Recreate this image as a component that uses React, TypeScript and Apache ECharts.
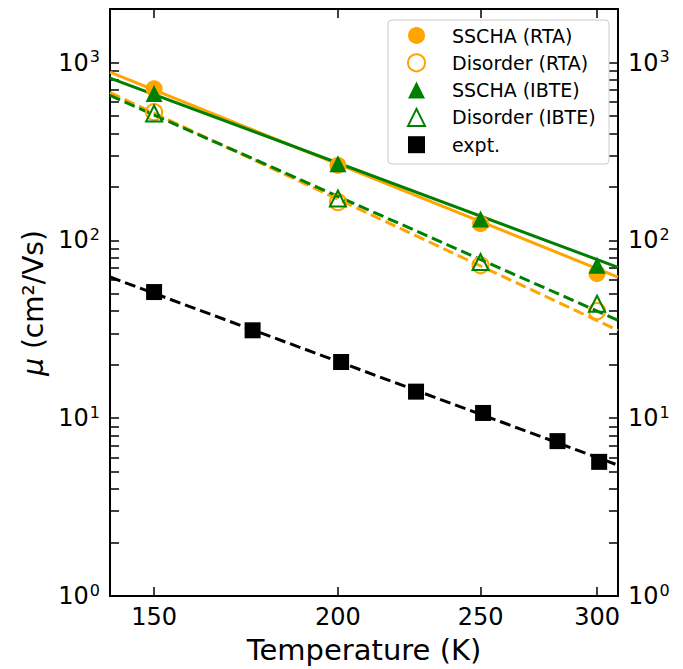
import React, { useEffect, useRef } from "react";
import * as echarts from "echarts";

// ---- data ----
const tempRange = [140, 310];
const muRange = [1, 2000];
const xTickValues = [150, 200, 250, 300];
const yLabelValues = [1, 10, 100, 1000];
const yTickValues = [
  1, 2, 3, 4, 5, 6, 7, 8, 9,
  10, 20, 30, 40, 50, 60, 70, 80, 90,
  100, 200, 300, 400, 500, 600, 700, 800, 900,
  1000,
];

const calcTemps = [150, 200, 250, 300];
const sschaRTA = [711, 264, 124, 65];
const disorderRTA = [526, 164, 72.4, 40];
const sschaIBTE = [670, 270, 132, 72.4];
const disorderIBTE = [517, 172, 75.5, 44];

const exptTemps = [150, 175, 201, 226, 251, 282, 301];
const exptMu = [51.2, 31.2, 20.7, 14.1, 10.7, 7.43, 5.68];

const fitTemps = [140, 310];
const fitSschaRTA = [882, 62.2];
const fitSschaIBTE = [818, 70.5];
const fitDisorderRTA = [678, 31.2];
const fitDisorderIBTE = [653, 35.5];
const fitExpt = [62.2, 5.44];

const legendNames = [
  "SSCHA (RTA)",
  "Disorder (RTA)",
  "SSCHA (IBTE)",
  "Disorder (IBTE)",
  "expt.",
];

const ORANGE = "#FFA500";
const GREEN = "#008000";
const BLACK = "#000000";
const FONT = "DejaVu Sans";

const pair = (xs: number[], ys: number[]) => xs.map((x, i) => [x, ys[i]]);

export default function App() {
  const ref = useRef<HTMLDivElement>(null);

  useEffect(() => {
    if (!ref.current) return;
    const chart = echarts.init(ref.current, null, { renderer: "svg" });

    const supFormatter = (v: number) =>
      `{b|10}{s|${Math.round(Math.log10(v))}}`;
    const supRich = {
      b: {
        fontSize: 24,
        lineHeight: 24,
        fontFamily: FONT,
        color: BLACK,
      },
      s: {
        fontSize: 16,
        lineHeight: 16,
        fontFamily: FONT,
        color: BLACK,
        padding: [0, 0, 12, 1],
      },
    };

    const axisLine = { show: true, lineStyle: { color: BLACK, width: 2 } };
    const tick = (vals: number[]) => ({
      show: true,
      inside: true,
      length: 9,
      customValues: vals,
      lineStyle: { color: BLACK, width: 1.5 },
    });

    const fitLine = (ys: number[], color: string, dashed: boolean) => ({
      type: "line",
      data: pair(fitTemps, ys),
      symbol: "none",
      silent: true,
      lineStyle: {
        color,
        width: 3,
        type: dashed ? [11, 5] : "solid",
      },
      z: 2,
    });

    const option: any = {
      animation: false,
      backgroundColor: "#fff",
      grid: { left: 110, top: 9, width: 508, height: 587, containLabel: false },
      xAxis: [
        {
          type: "log",
          logBase: 10,
          min: tempRange[0],
          max: tempRange[1],
          position: "bottom",
          axisLine,
          axisTick: tick(xTickValues),
          axisLabel: {
            customValues: xTickValues,
            fontSize: 24,
            fontFamily: FONT,
            color: BLACK,
            margin: 9,
            formatter: (v: number) => String(Math.round(v)),
          },
          splitLine: { show: false },
          minorTick: { show: false },
        },
        {
          type: "log",
          logBase: 10,
          min: tempRange[0],
          max: tempRange[1],
          position: "top",
          axisLine,
          axisTick: tick(xTickValues),
          axisLabel: { show: false },
          splitLine: { show: false },
        },
      ],
      yAxis: [
        {
          type: "log",
          logBase: 10,
          min: muRange[0],
          max: muRange[1],
          position: "left",
          axisLine,
          axisTick: tick(yTickValues),
          axisLabel: {
            customValues: yLabelValues,
            formatter: supFormatter,
            rich: supRich,
            margin: 10,
          },
          splitLine: { show: false },
        },
        {
          type: "log",
          logBase: 10,
          min: muRange[0],
          max: muRange[1],
          position: "right",
          axisLine,
          axisTick: tick(yTickValues),
          axisLabel: {
            customValues: yLabelValues,
            formatter: supFormatter,
            rich: supRich,
            margin: 10,
          },
          splitLine: { show: false },
        },
      ],
      legend: {
        orient: "vertical",
        left: 407,
        top: 26,
        data: legendNames,
        itemWidth: 17,
        itemHeight: 17,
        itemGap: 8.3,
        formatter: (name: string) => `{g| }{t|${name}}`,
        textStyle: {
          fontSize: 19,
          lineHeight: 19,
          fontFamily: FONT,
          color: BLACK,
          rich: {
            g: { width: 22, fontSize: 19, lineHeight: 19 },
            t: { fontSize: 19, lineHeight: 19, fontFamily: FONT, color: BLACK },
          },
        },
        padding: 0,
        selectedMode: false,
        z: 10,
      },
      graphic: [
        {
          type: "rect",
          z: 5,
          shape: { x: 388, y: 20, width: 221, height: 144, r: 4 },
          style: { fill: "rgba(255,255,255,0.8)", stroke: "#cccccc", lineWidth: 1 },
        },
        {
          type: "text",
          x: 364,
          y: 650,
          style: {
            text: "Temperature (K)",
            fontSize: 29,
            fontFamily: FONT,
            fill: BLACK,
            align: "center",
            verticalAlign: "middle",
          },
        },
        {
          type: "text",
          x: 33,
          y: 303,
          rotation: Math.PI / 2,
          style: {
            text: "{i|μ} (cm²/Vs)",
            fontSize: 28,
            fontFamily: FONT,
            fill: BLACK,
            align: "center",
            verticalAlign: "middle",
            rich: {
              i: { fontSize: 28, fontFamily: FONT, fontStyle: "italic", fill: BLACK },
            },
          },
        },
      ],
      series: [
        fitLine(fitSschaRTA, ORANGE, false),
        fitLine(fitDisorderRTA, ORANGE, true),
        {
          name: "SSCHA (RTA)",
          type: "scatter",
          data: pair(calcTemps, sschaRTA),
          symbol: "circle",
          symbolSize: 17,
          itemStyle: { color: ORANGE, opacity: 1 },
          z: 3,
        },
        {
          name: "Disorder (RTA)",
          type: "scatter",
          data: pair(calcTemps, disorderRTA),
          symbol: "circle",
          symbolSize: 16,
          itemStyle: {
            color: "rgba(255,255,255,0)",
            borderColor: ORANGE,
            borderWidth: 2,
            opacity: 1,
          },
          z: 3,
        },
        fitLine(fitSschaIBTE, GREEN, false),
        fitLine(fitDisorderIBTE, GREEN, true),
        {
          name: "SSCHA (IBTE)",
          type: "scatter",
          data: pair(calcTemps, sschaIBTE),
          symbol: "triangle",
          symbolSize: 17,
          itemStyle: { color: GREEN, opacity: 1 },
          z: 4,
        },
        {
          name: "Disorder (IBTE)",
          type: "scatter",
          data: pair(calcTemps, disorderIBTE),
          symbol: "triangle",
          symbolSize: 16,
          itemStyle: {
            color: "rgba(255,255,255,0)",
            borderColor: GREEN,
            borderWidth: 2,
            opacity: 1,
          },
          z: 4,
        },
        fitLine(fitExpt, BLACK, true),
        {
          name: "expt.",
          type: "scatter",
          data: pair(exptTemps, exptMu),
          symbol: "rect",
          symbolSize: 16,
          itemStyle: { color: BLACK, opacity: 1 },
          z: 4,
        },
      ],
    };

    chart.setOption(option);
    return () => chart.dispose();
  }, []);

  return (
    <div
      ref={ref}
      style={{ position: "fixed", left: 0, top: 0, width: 683, height: 669 }}
    />
  );
}
